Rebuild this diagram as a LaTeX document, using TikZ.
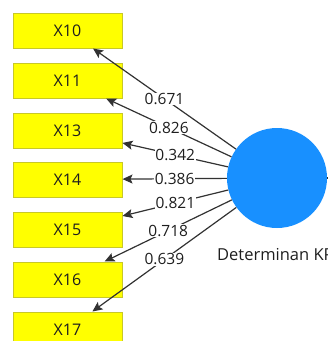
\documentclass[tikz,border=0pt]{standalone}
\usepackage{fontspec}
\setmainfont{Open Sans}
\usetikzlibrary{arrows.meta}
\definecolor{boxfill}{RGB}{255,255,0}
\definecolor{boxline}{RGB}{200,200,40}
\definecolor{circfill}{RGB}{24,144,255}
\definecolor{edgecol}{RGB}{50,50,50}
\definecolor{txtcol}{RGB}{30,30,30}
\tikzset{
  indbox/.style={draw=boxline, fill=boxfill, line width=1pt, minimum width=109pt, minimum height=35pt, inner sep=0pt, font=\fontsize{16}{18}\selectfont, text=txtcol},
  lv/.style={circle, fill=circfill, draw=none, minimum size=100pt, inner sep=0pt},
  arr/.style={draw=edgecol, line width=1.2pt, -{Stealth[length=10pt,width=9pt,inset=2pt]}},
  lbl/.style={fill=white, inner sep=0.5pt, font=\fontsize{15.5}{17}\selectfont, text=txtcol},
  lvlbl/.style={font=\fontsize{16.5}{18}\selectfont, text=txtcol, anchor=base west, inner sep=0pt},
}
\begin{document}
\begin{tikzpicture}[x=1pt,y=-1pt]
\useasboundingbox (0,0) rectangle (328,341);
\clip (0,0) rectangle (328,341);
\node[indbox] (x10) at (67.5,30.5) {X10};
\node[indbox] (x11) at (67.5,80.5) {X11};
\node[indbox] (x13) at (67.5,130.5) {X13};
\node[indbox] (x14) at (67.5,179.5) {X14};
\node[indbox] (x15) at (67.5,229.5) {X15};
\node[indbox] (x16) at (67.5,279.5) {X16};
\node[indbox] (x17) at (67.5,329.5) {X17};
\node[lv] (kp) at (277,178) {};
\node[lvlbl] (kplbl) at (217,260) {Determinan KP};
\coordinate (out) at (335,178);
\draw[arr] (kp) -- node[lbl]{0.671} (x10);
\draw[arr] (kp) -- node[lbl]{0.826} (x11);
\draw[arr] (kp) -- node[lbl]{0.342} (x13);
\draw[arr] (kp) -- node[lbl]{0.386} (x14);
\draw[arr] (kp) -- node[lbl]{0.821} (x15);
\draw[arr] (kp) -- node[lbl]{0.718} (x16);
\draw[arr] (kp) -- node[lbl]{0.639} (x17);
\draw[draw=edgecol, line width=1.2pt] (kp) -- (out);
\end{tikzpicture}
\end{document}
